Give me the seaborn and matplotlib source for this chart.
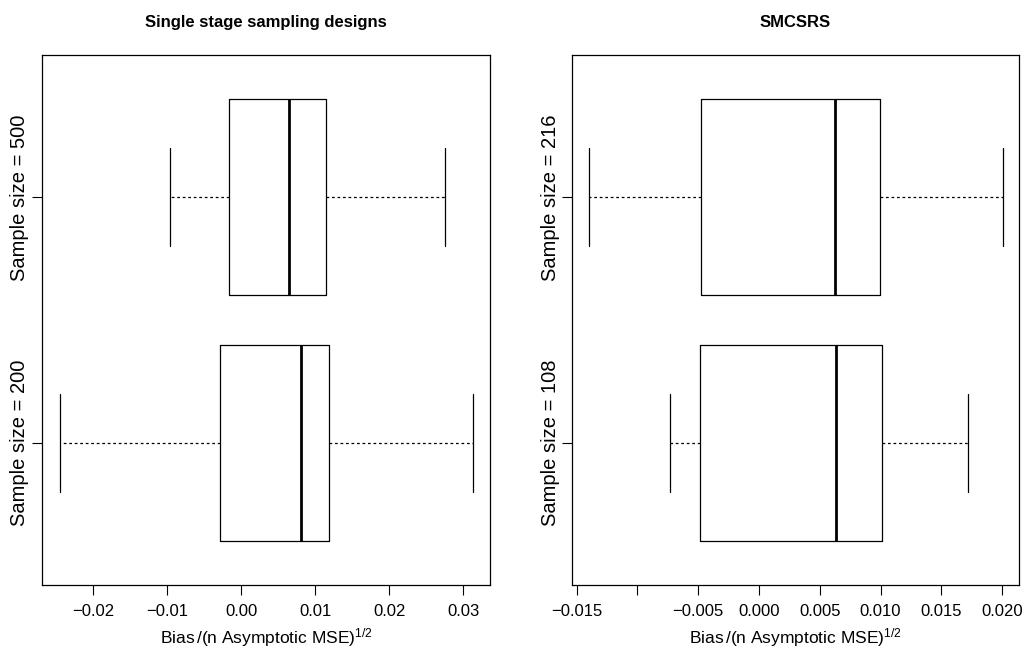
import numpy as np
import pandas as pd
import matplotlib
matplotlib.use("Agg")
import matplotlib.pyplot as plt
import seaborn as sns

# Five-number summaries (min, Q1, median, Q3, max) of standardized bias
single_labels = ["Sample size = 500", "Sample size = 200"]
single_n500 = [-0.00962, -0.00171, 0.00651, 0.01146, 0.02749]
single_n200 = [-0.02445, -0.00288, 0.00813, 0.01190, 0.03135]

smcsrs_labels = ["Sample size = 216", "Sample size = 108"]
smcsrs_n216 = [-0.01400, -0.00479, 0.00627, 0.00993, 0.02007]
smcsrs_n108 = [-0.00729, -0.00485, 0.00636, 0.01009, 0.01721]

left_ticks = [-0.02, -0.01, 0.00, 0.01, 0.02, 0.03]
left_ticklabels = ["\u22120.02", "\u22120.01", "0.00", "0.01", "0.02", "0.03"]
right_ticks = [-0.015, -0.010, -0.005, 0.000, 0.005, 0.010, 0.015, 0.020]
right_ticklabels = ["\u22120.015", "", "\u22120.005", "0.000", "0.005", "0.010", "0.015", "0.020"]

titles = ["Single stage sampling designs", "SMCSRS"]
xlabel = r"Bias$\,/\left(\mathrm{n\ Asymptotic\ MSE}\right)^{1/2}$"

sns.set_theme(style="ticks")
plt.rcParams["font.family"] = ["Liberation Sans", "DejaVu Sans"]
plt.rcParams["text.color"] = "black"
plt.rcParams["axes.labelcolor"] = "black"
plt.rcParams["mathtext.fontset"] = "custom"
plt.rcParams["mathtext.rm"] = "Liberation Sans"
plt.rcParams["mathtext.it"] = "Liberation Sans:italic"
plt.rcParams["mathtext.bf"] = "Liberation Sans:bold"

W, H = 1029, 659
fig = plt.figure(figsize=(W / 100, H / 100), dpi=100)
top, bottom = 55, 585
ax_l = fig.add_axes([42 / W, (H - bottom) / H, (490 - 42) / W, (bottom - top) / H])
ax_r = fig.add_axes([572 / W, (H - bottom) / H, (1019 - 572) / W, (bottom - top) / H])


def frame(labels, upper, lower):
    return pd.DataFrame({
        "value": list(upper) + list(lower),
        "group": [labels[0]] * len(upper) + [labels[1]] * len(lower),
    })


panels = [
    (ax_l, frame(single_labels, single_n500, single_n200), single_labels,
     left_ticks, left_ticklabels, (-0.0269, 0.0336), titles[0]),
    (ax_r, frame(smcsrs_labels, smcsrs_n216, smcsrs_n108), smcsrs_labels,
     right_ticks, right_ticklabels, (-0.01538, 0.02138), titles[1]),
]

lw = 0.9
for ax, df, labels, ticks, ticklabels, xlim, title in panels:
    sns.boxplot(
        data=df, x="value", y="group", order=labels, orient="h", ax=ax,
        whis=(0, 100), width=0.8, fill=False, color="black", linewidth=lw,
        showfliers=False,
        boxprops=dict(linewidth=lw, color="black"),
        whiskerprops=dict(linewidth=lw, color="black", linestyle=(0, (2.2, 2.2))),
        capprops=dict(linewidth=lw, color="black"),
        medianprops=dict(linewidth=2.0, color="black"),
    )
    ax.set_xlim(*xlim)
    ax.set_ylim(1.58, -0.58)
    ax.set_xticks(ticks)
    ax.set_xticklabels(ticklabels, fontsize=12)
    ax.set_yticks([0, 1])
    ax.set_yticklabels(labels, rotation=90, va="center", fontsize=14.5)
    ax.set_ylabel("")
    ax.set_xlabel(xlabel, fontsize=12.5, labelpad=5)
    ax.set_title(title, fontsize=12, fontweight="bold", pad=20)
    ax.tick_params(axis="x", direction="out", length=7, width=0.8,
                   color="black", labelcolor="black", pad=7)
    ax.tick_params(axis="y", direction="out", length=7, width=0.8,
                   color="black", labelcolor="black", pad=2)
    for s in ax.spines.values():
        s.set_visible(True)
        s.set_color("black")
        s.set_linewidth(0.9)
    ax.grid(False)

fig.savefig("out.png", dpi=100, facecolor="white")
